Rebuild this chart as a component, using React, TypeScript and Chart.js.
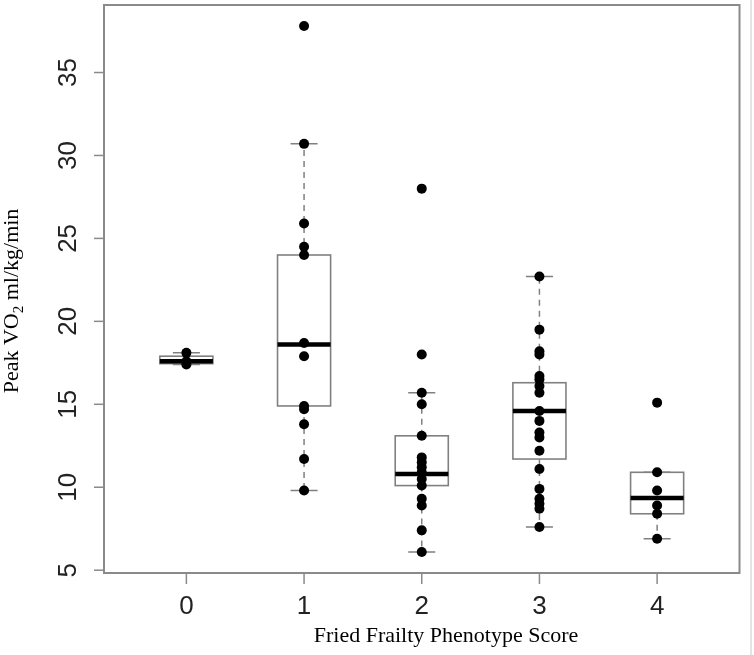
import React, { useEffect, useRef } from 'react';
import { Chart, registerables } from 'chart.js';

Chart.register(...registerables);

// ---- data ----
const categories = ['0', '1', '2', '3', '4'];
const yTickValues = [5, 10, 15, 20, 25, 30, 35];

const score0 = [18.1, 17.6, 17.4];
const score1 = [37.8, 30.7, 25.9, 24.5, 24.0, 18.7, 17.9, 14.9, 14.7, 13.8, 11.7, 9.8];
const score2 = [28.0, 18.0, 15.7, 15.0, 13.1, 11.8, 11.5, 11.2, 10.9, 10.5, 10.1, 9.3, 8.9, 7.4, 6.1];
const score3 = [22.7, 19.5, 18.2, 18.0, 16.7, 16.5, 16.1, 15.7, 14.6, 14.0, 13.3, 13.0, 12.2, 11.1, 9.9, 9.3, 9.0, 8.7, 7.6];
const score4 = [15.1, 10.9, 9.8, 8.9, 8.4, 6.9];

const whiskerLow = [17.4, 9.8, 6.1, 7.6, 6.9];
const quartile1 = [17.45, 14.9, 10.1, 11.7, 8.4];
const medians = [17.6, 18.6, 10.8, 14.6, 9.35];
const quartile3 = [17.9, 24.0, 13.1, 16.3, 10.9];
const whiskerHigh = [18.1, 30.7, 15.7, 22.7, 10.9];

const groups = [score0, score1, score2, score3, score4];

const xTitle = 'Fried Frailty Phenotype Score';

const BOX_HALF = 0.2255;
const CAP_HALF = 0.115;
const FRAME = '#8a8a8a';
const BOXLINE = '#808080';

const boxPlugin = {
  id: 'boxDecor',
  beforeDatasetsDraw(chart: any) {
    const { ctx, scales } = chart;
    const xs = scales.x;
    const ys = scales.y;
    ctx.save();
    for (let i = 0; i < categories.length; i++) {
      const cx = xs.getPixelForValue(i);
      const bl = xs.getPixelForValue(i - BOX_HALF);
      const br = xs.getPixelForValue(i + BOX_HALF);
      const cl = xs.getPixelForValue(i - CAP_HALF);
      const cr = xs.getPixelForValue(i + CAP_HALF);
      const yLo = ys.getPixelForValue(whiskerLow[i]);
      const yQ1 = ys.getPixelForValue(quartile1[i]);
      const yMed = ys.getPixelForValue(medians[i]);
      const yQ3 = ys.getPixelForValue(quartile3[i]);
      const yHi = ys.getPixelForValue(whiskerHigh[i]);
      // whiskers
      ctx.strokeStyle = BOXLINE;
      ctx.lineWidth = 1.5;
      ctx.setLineDash([6, 5]);
      ctx.beginPath();
      ctx.moveTo(cx, yQ3);
      ctx.lineTo(cx, yHi);
      ctx.moveTo(cx, yQ1);
      ctx.lineTo(cx, yLo);
      ctx.stroke();
      ctx.setLineDash([]);
      // caps
      ctx.beginPath();
      ctx.moveTo(cl, yHi);
      ctx.lineTo(cr, yHi);
      ctx.moveTo(cl, yLo);
      ctx.lineTo(cr, yLo);
      ctx.stroke();
      // box
      ctx.fillStyle = '#ffffff';
      ctx.fillRect(bl, yQ3, br - bl, yQ1 - yQ3);
      ctx.lineWidth = 1.6;
      ctx.strokeRect(bl, yQ3, br - bl, yQ1 - yQ3);
      // median
      ctx.strokeStyle = '#000000';
      ctx.lineWidth = 4.5;
      ctx.beginPath();
      ctx.moveTo(bl, yMed);
      ctx.lineTo(br, yMed);
      ctx.stroke();
    }
    ctx.restore();
  },
  afterDraw(chart: any) {
    const { ctx, chartArea, scales } = chart;
    const xs = scales.x;
    const ys = scales.y;
    const { left, right, top, bottom } = chartArea;
    ctx.save();
    // faint right edge line
    ctx.strokeStyle = '#e4e4e4';
    ctx.lineWidth = 2;
    ctx.beginPath();
    ctx.moveTo(751, 0);
    ctx.lineTo(751, 655);
    ctx.stroke();
    // frame
    ctx.strokeStyle = FRAME;
    ctx.lineWidth = 2;
    ctx.strokeRect(left, top, right - left, bottom - top);
    // y ticks
    ctx.lineWidth = 1.5;
    ctx.fillStyle = '#222222';
    ctx.font = '26px "Liberation Sans", Arial, sans-serif';
    ctx.textAlign = 'center';
    ctx.textBaseline = 'middle';
    for (const v of yTickValues) {
      const y = ys.getPixelForValue(v);
      ctx.beginPath();
      ctx.moveTo(left - 10, y);
      ctx.lineTo(left, y);
      ctx.stroke();
      ctx.save();
      ctx.translate(68, y);
      ctx.rotate(-Math.PI / 2);
      ctx.fillText(String(v), 0, 1);
      ctx.restore();
    }
    // x ticks
    for (let i = 0; i < categories.length; i++) {
      const x = xs.getPixelForValue(i);
      ctx.beginPath();
      ctx.moveTo(x, bottom);
      ctx.lineTo(x, bottom + 11);
      ctx.stroke();
      ctx.fillText(categories[i], x, 607);
    }
    // x title
    ctx.fillStyle = '#000000';
    ctx.font = '22px "Liberation Serif", "Times New Roman", serif';
    ctx.fillText(xTitle, 446, 636);
    // y title with subscript
    const mainFont = '22px "Liberation Serif", "Times New Roman", serif';
    const subFont = '15px "Liberation Serif", "Times New Roman", serif';
    const p1 = 'Peak VO';
    const p2 = '2';
    const p3 = ' ml/kg/min';
    ctx.font = mainFont;
    const w1 = ctx.measureText(p1).width;
    const w3 = ctx.measureText(p3).width;
    ctx.font = subFont;
    const w2 = ctx.measureText(p2).width;
    const total = w1 + w2 + w3;
    ctx.save();
    ctx.translate(0, 301);
    ctx.rotate(-Math.PI / 2);
    ctx.textAlign = 'left';
    ctx.textBaseline = 'alphabetic';
    let cur = -total / 2;
    ctx.font = mainFont;
    ctx.fillText(p1, cur, 18);
    cur += w1;
    ctx.font = subFont;
    ctx.fillText(p2, cur, 23);
    cur += w2;
    ctx.font = mainFont;
    ctx.fillText(p3, cur, 18);
    ctx.restore();
    ctx.restore();
  },
};

export default function App() {
  const ref = useRef<HTMLCanvasElement | null>(null);
  useEffect(() => {
    if (!ref.current) return;
    const chart = new Chart(ref.current, {
      type: 'scatter',
      data: {
        datasets: groups.map((vals, i) => ({
          label: categories[i],
          data: vals.map((v) => ({ x: i, y: v })),
          backgroundColor: '#000000',
          borderColor: '#000000',
          borderWidth: 0,
          pointRadius: 5,
          pointHoverRadius: 5,
        })),
      },
      options: {
        responsive: false,
        animation: false,
        devicePixelRatio: 1,
        layout: { padding: { left: 104, top: 5, right: 14.5, bottom: 82 } },
        plugins: { legend: { display: false }, tooltip: { enabled: false } },
        scales: {
          x: { type: 'linear', display: false, min: -0.7, max: 4.7 },
          y: { type: 'linear', display: false, min: 4.83, max: 39.07 },
        },
      },
      plugins: [boxPlugin],
    });
    return () => chart.destroy();
  }, []);
  return (
    <div style={{ position: 'fixed', left: 0, top: 0, width: 754, height: 655, background: '#fff' }}>
      <canvas ref={ref} width={754} height={655} style={{ width: 754, height: 655 }} />
    </div>
  );
}
